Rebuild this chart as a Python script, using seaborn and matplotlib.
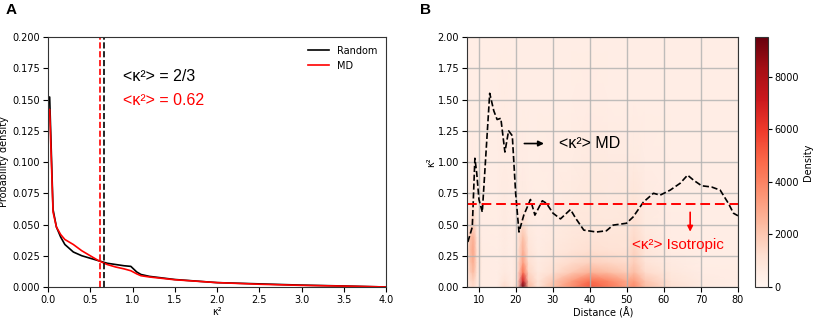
import numpy as np
import pandas as pd
import seaborn as sns
import matplotlib
matplotlib.use("Agg")
import matplotlib.pyplot as plt

# ---- panel A: kappa^2 probability density
kappa_grid = [0.0, 0.02, 0.06, 0.1, 0.15, 0.2, 0.3, 0.4, 0.5, 0.6, 0.7, 0.8,
              0.9, 0.98, 1.05, 1.1, 1.2, 1.5, 2.0, 2.5, 3.0, 3.5, 3.8, 4.0]
random_density = [0.152, 0.152, 0.062, 0.048, 0.040, 0.034, 0.028, 0.025, 0.023,
                  0.021, 0.019, 0.018, 0.017, 0.0165, 0.012, 0.010, 0.0085,
                  0.006, 0.0035, 0.0025, 0.0015, 0.0008, 0.0003, 0.0]
md_density = [0.142, 0.142, 0.060, 0.048, 0.042, 0.038, 0.034, 0.029, 0.025,
              0.021, 0.018, 0.016, 0.0145, 0.013, 0.0105, 0.009, 0.008,
              0.0058, 0.0035, 0.0022, 0.0013, 0.0007, 0.0003, 0.0]
mean_random = 2 / 3
mean_md = 0.62

# ---- panel B: density of kappa^2 vs distance, and the MD average
dist_nodes = [7, 7.8, 8.6, 9.6, 11, 15, 17, 19, 20.5, 22, 23.5, 26, 30, 35, 40,
              45, 50, 52, 55, 62, 70, 80]
kappa_nodes = [0.0, 0.05, 0.12, 0.2, 0.3, 0.4, 0.5, 0.7, 1.0, 1.5, 2.0]
# one list per distance node, values along kappa_nodes
density_cols = [
    [700, 700, 900, 1000, 1100, 900, 600, 450, 450, 450, 450],
    [1200, 1300, 1800, 2200, 2400, 2200, 1200, 550, 450, 450, 450],
    [1400, 1600, 2400, 2800, 3000, 2700, 1600, 600, 500, 450, 450],
    [800, 800, 1000, 1100, 1100, 1000, 700, 500, 450, 450, 450],
    [550, 550, 550, 550, 550, 500, 500, 450, 450, 450, 450],
    [500, 480, 450, 450, 450, 450, 450, 450, 450, 450, 450],
    [1300, 1000, 700, 600, 600, 600, 600, 600, 550, 550, 450],
    [600, 550, 500, 500, 480, 450, 450, 450, 450, 450, 450],
    [1500, 1200, 1000, 900, 800, 700, 600, 500, 450, 450, 450],
    [9500, 7000, 4500, 3200, 2700, 2200, 1300, 600, 500, 450, 450],
    [2500, 2000, 1500, 1200, 1000, 800, 600, 500, 450, 450, 450],
    [1000, 900, 700, 600, 550, 500, 500, 450, 450, 450, 450],
    [2200, 1900, 1200, 900, 750, 650, 600, 550, 500, 450, 450],
    [3600, 3200, 1900, 1300, 1000, 850, 750, 650, 550, 450, 450],
    [5200, 4600, 2600, 1600, 1200, 1000, 850, 750, 650, 500, 450],
    [4400, 3900, 2300, 1500, 1100, 900, 800, 700, 600, 450, 450],
    [3300, 2900, 1800, 1300, 1050, 950, 850, 750, 600, 450, 450],
    [3800, 3300, 2300, 1800, 1600, 1400, 1200, 950, 650, 450, 450],
    [2300, 2000, 1300, 1000, 850, 750, 650, 600, 500, 450, 450],
    [1200, 1000, 750, 600, 550, 500, 500, 450, 450, 450, 450],
    [650, 600, 500, 450, 450, 450, 450, 450, 450, 450, 450],
    [450, 450, 450, 450, 450, 450, 450, 450, 450, 450, 450],
]
md_dist = [7.1, 8.3, 9.0, 9.5, 10.1, 11.0, 13.0, 14.1, 15.0, 16.0, 17.1, 18.1,
           19.1, 20.0, 20.9, 22.2, 24.0, 25.2, 27.2, 28.3, 30.1, 32.1, 34.8,
           36.2, 38.4, 41.8, 44.5, 46.3, 49.9, 51.7, 54.5, 57.2, 59.0, 61.7,
           64.4, 66.4, 68.0, 70.2, 72.9, 75.2, 77.4, 78.8, 80.0]
md_kappa = [0.36, 0.48, 1.03, 0.91, 0.70, 0.60, 1.55, 1.41, 1.34, 1.35, 1.08,
            1.25, 1.21, 0.75, 0.44, 0.575, 0.70, 0.575, 0.69, 0.67, 0.59, 0.545,
            0.62, 0.55, 0.455, 0.44, 0.45, 0.495, 0.51, 0.56, 0.68, 0.75, 0.735,
            0.775, 0.83, 0.895, 0.855, 0.81, 0.80, 0.775, 0.67, 0.59, 0.57]

txt_font = "Liberation Sans"
plt.rcParams["font.size"] = 7
plt.rcParams["axes.edgecolor"] = "#333333"
plt.rcParams["xtick.major.pad"] = 2.5
plt.rcParams["ytick.major.pad"] = 2.5

fig = plt.figure(figsize=(8.13, 3.18), dpi=100)
axA = fig.add_axes([0.059, 0.0975, 0.416, 0.786])
axB = fig.add_axes([0.575, 0.0975, 0.3327, 0.786])
cax = fig.add_axes([0.9287, 0.0975, 0.016, 0.786])

# panel A
dfA = pd.DataFrame({
    "kappa": kappa_grid * 2,
    "density": random_density + md_density,
    "set": ["Random"] * len(kappa_grid) + ["MD"] * len(kappa_grid),
})
sns.lineplot(data=dfA, x="kappa", y="density", hue="set",
             palette={"Random": "black", "MD": "red"}, lw=1.2, ax=axA)
axA.axvline(mean_md, color="red", ls="--", lw=1.2)
axA.axvline(mean_random, color="black", ls="--", lw=1.2)
axA.set_xlim(0, 4)
axA.set_ylim(0, 0.2)
axA.set_xticks(np.arange(0, 4.01, 0.5))
axA.set_yticks(np.arange(0, 0.201, 0.025))
axA.yaxis.set_major_formatter(matplotlib.ticker.FormatStrFormatter("%.3f"))
axA.set_xlabel("κ²", labelpad=1)
axA.set_ylabel("Probability density", labelpad=2)
axA.legend(loc="upper right", frameon=False, title=None, fontsize=7,
           handlelength=2.2)
axA.text(0.89, 0.1686, "<κ²> = 2/3", color="black", fontsize=11.5,
         family=txt_font, va="center")
axA.text(0.89, 0.149, "<κ²> = 0.62", color="red", fontsize=11.5,
         family=txt_font, va="center")

# panel B
dens = np.array(density_cols).T
mesh = axB.pcolormesh(dist_nodes, kappa_nodes, dens, cmap="Reds",
                      vmin=0, vmax=9500, shading="gouraud")
sns.lineplot(x=md_dist, y=md_kappa, color="black", ls="--", lw=1.2, ax=axB)
axB.axhline(mean_random, color="red", ls=(0, (5, 2.5)), lw=1.4)
axB.set_xlim(7, 80)
axB.set_ylim(0, 2)
axB.set_xticks(np.arange(10, 81, 10))
axB.set_yticks(np.arange(0, 2.01, 0.25))
axB.yaxis.set_major_formatter(matplotlib.ticker.FormatStrFormatter("%.2f"))
axB.grid(True, color="#b0b0b0", lw=1.0, alpha=0.8)
axB.set_axisbelow("line")
axB.set_xlabel("Distance (Å)", labelpad=1)
axB.set_ylabel("κ²", labelpad=1)
axB.annotate("", xy=(28.4, 1.148), xytext=(21.6, 1.148),
             arrowprops=dict(arrowstyle="-|>", color="black", lw=1.2,
                             mutation_scale=8))
axB.text(31.6, 1.148, "<κ²> MD", color="black", fontsize=11.5,
         family=txt_font, va="center")
axB.annotate("", xy=(67.1, 0.42), xytext=(67.1, 0.62),
             arrowprops=dict(arrowstyle="-|>", color="red", lw=1.2,
                             mutation_scale=8))
axB.text(51.4, 0.34, "<κ²> Isotropic", color="red", fontsize=11,
         family=txt_font, va="center")

cb = fig.colorbar(mesh, cax=cax)
cb.set_ticks([0, 2000, 4000, 6000, 8000])
cb.ax.tick_params(pad=1.5, length=3)
cb.set_label("Density", labelpad=3)

fig.text(0.007, 0.955, "A", fontsize=11, fontweight="bold", family=txt_font)
fig.text(0.517, 0.955, "B", fontsize=11, fontweight="bold", family=txt_font)

fig.savefig("out.png", dpi=100)
